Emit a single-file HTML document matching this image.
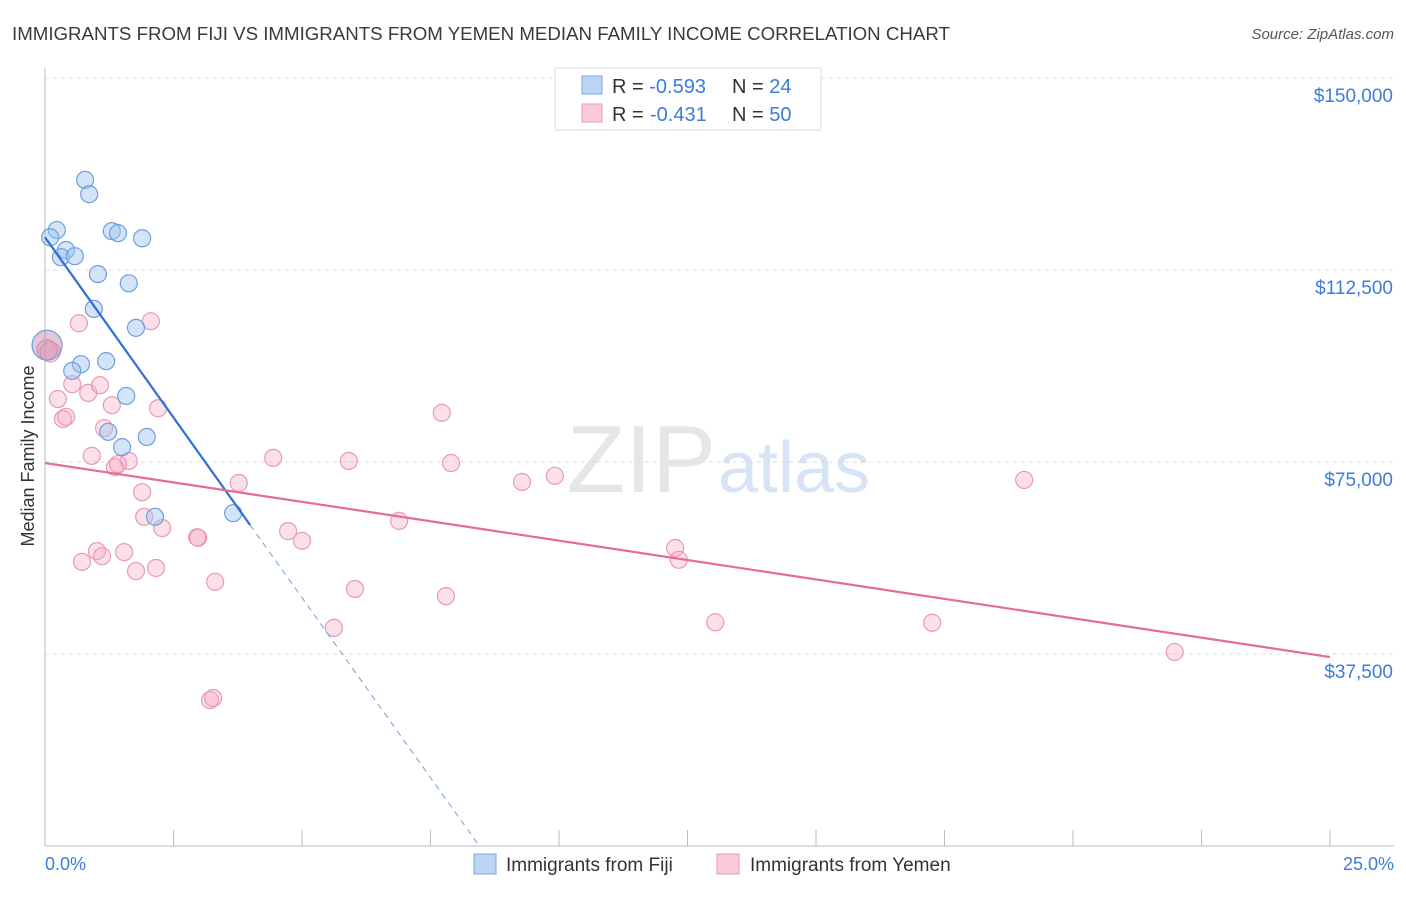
<!DOCTYPE html>
<html><head><meta charset="utf-8"><style>
body{margin:0;background:#fff;font-family:"Liberation Sans",sans-serif;}
svg text{font-family:"Liberation Sans",sans-serif;}
</style></head><body>
<svg id="c" width="1406" height="892" xmlns="http://www.w3.org/2000/svg">
<text x="12" y="40" font-size="18.7" fill="#3a3a3a">IMMIGRANTS FROM FIJI VS IMMIGRANTS FROM YEMEN MEDIAN FAMILY INCOME CORRELATION CHART</text>
<text x="1394" y="39" font-size="15" fill="#555" font-style="italic" text-anchor="end">Source: ZipAtlas.com</text>
<text x="716" y="492" font-size="96" fill="#e6e6e6" text-anchor="end" font-family="Liberation Serif">ZIP</text>
<text x="718" y="492" font-size="72" fill="#d6e4f5">atlas</text>
<text transform="translate(34,456) rotate(-90)" font-size="18" fill="#333" text-anchor="middle">Median Family Income</text>
<g id="grid"></g><g id="pts"></g><g id="lines"></g>
<g>
<rect x="555" y="68" width="266" height="62" fill="#fff" stroke="#ddd"/>
<rect x="582" y="76" width="20" height="18" fill="#bcd5f5" stroke="#7aa8e0"/>
<rect x="582" y="104" width="20" height="18" fill="#fbcad9" stroke="#e89ab5"/>
<g font-size="20" fill="#333">
<text x="612" y="93">R = <tspan fill="#3b7dd8">-0.593</tspan></text>
<text x="732" y="93">N = <tspan fill="#3b7dd8">24</tspan></text>
<text x="612" y="121">R = <tspan fill="#3b7dd8" x="650">-0.431</tspan></text>
<text x="732" y="121">N = <tspan fill="#3b7dd8">50</tspan></text>
</g>
</g>
<text x="45" y="870" font-size="18" fill="#3b7dd8">0.0%</text>
<text x="1394" y="870" font-size="18" fill="#3b7dd8" text-anchor="end">25.0%</text>
<rect x="474" y="854" width="22" height="20" fill="#bcd5f5" stroke="#7aa8e0"/>
<text x="506" y="871" font-size="19" fill="#333">Immigrants from Fiji</text>
<rect x="717" y="854" width="22" height="20" fill="#fbcad9" stroke="#e89ab5"/>
<text x="750" y="871" font-size="19" fill="#333">Immigrants from Yemen</text>
</svg>
<script>
const yTicks=[37500,75000,112500,150000];
const yTickLabels=["$37,500","$75,000","$112,500","$150,000"];
const fijiX=[0.78,0.86,0.23,0.10,1.30,1.42,1.89,0.41,0.31,0.58,1.03,1.63,0.95,1.77,0.04,1.19,0.70,0.53,1.58,1.23,1.98,1.50,3.66,2.14];
const fijiY=[130100,127300,120300,118900,120100,119700,118700,116400,115000,115200,111700,109900,104900,101200,97800,94700,94100,92800,87900,80900,79900,77900,65000,64300];
const yemenX=[0.04,0.10,0.66,2.06,0.53,0.84,0.25,1.30,2.20,0.35,0.41,1.15,0.91,1.63,1.36,1.42,1.89,3.77,4.44,5.91,7.72,7.90,9.28,9.92,19.05,1.93,2.28,2.96,2.98,4.73,5.00,6.89,1.01,1.54,1.11,0.72,1.77,2.16,3.31,6.03,7.80,12.26,12.33,5.62,13.04,17.26,21.98,3.21,3.27,1.07];
const yemenY=[96900,96500,102100,102500,90200,88500,87300,86100,85500,83400,83800,81600,76200,75200,74000,74600,69100,70900,75800,75200,84600,74800,71100,72300,71500,64300,62100,60300,60200,61500,59600,63500,57600,57400,56600,55500,53700,54300,51600,50200,48800,58200,55900,42600,43700,43600,37900,28500,28900,90000];
const fijiLine=[0,118900,3.99,62700,8.45,0];
const yemenLine=[0,74800,25,36900];
const X=v=>45+v/25*1285, Y=v=>846-v/37500*192;
const NS="http://www.w3.org/2000/svg";
function mk(p,t,a){const e=document.createElementNS(NS,t);for(const k in a)e.setAttribute(k,a[k]);p.appendChild(e);return e;}
const g=document.getElementById('grid');
let ax=mk(g,'line',{x1:45,y1:68,x2:45,y2:846,stroke:'#bbb'});


let bx=mk(g,'line',{x1:45,y1:846,x2:1394,y2:846,stroke:'#bbb'});


for(let i=0;i<=10;i++){const t=mk(g,'line',{x1:X(i*2.5),y1:830,x2:X(i*2.5),y2:846,stroke:'#bbb'});

}
yTicks.forEach((v,i)=>{const l=mk(g,'line',{x1:45,y1:Y(v),x2:1394,y2:Y(v),stroke:'#ddd','stroke-dasharray':'4,4'});


const t=mk(g,'text',{x:1393,y:Y(v)+24,'font-size':19,fill:'#3b7dd8','text-anchor':'end'});t.textContent=yTickLabels[i];

});
const p=document.getElementById('pts');
yemenX.forEach((x,i)=>{const c=mk(p,'circle',{cx:X(x),cy:Y(yemenY[i]),r:i<2?10:8.5,fill:'rgba(245,165,190,0.35)',stroke:'#e89ab5','stroke-width':1.2});

});
fijiX.forEach((x,i)=>{const c=mk(p,'circle',{cx:X(x),cy:Y(fijiY[i]),r:i==14?15:8.5,fill:i==14?'rgba(190,130,170,0.45)':'rgba(160,196,240,0.45)',stroke:'#6f9fdc','stroke-width':1.2});

});
const L=document.getElementById('lines');
let f1=mk(L,'line',{x1:X(fijiLine[0]),y1:Y(fijiLine[1]),x2:X(fijiLine[2]),y2:Y(fijiLine[3]),stroke:'#2f6fd6','stroke-width':2.2});


let f2=mk(L,'line',{x1:X(fijiLine[2]),y1:Y(fijiLine[3]),x2:X(fijiLine[4]),y2:Y(fijiLine[5]),stroke:'#6f9fdc','stroke-width':1,'stroke-dasharray':'6,5'});


let y1=mk(L,'line',{x1:X(yemenLine[0]),y1:Y(yemenLine[1]),x2:X(yemenLine[2]),y2:Y(yemenLine[3]),stroke:'#e56b98','stroke-width':2.2});


</script>
</body></html>
